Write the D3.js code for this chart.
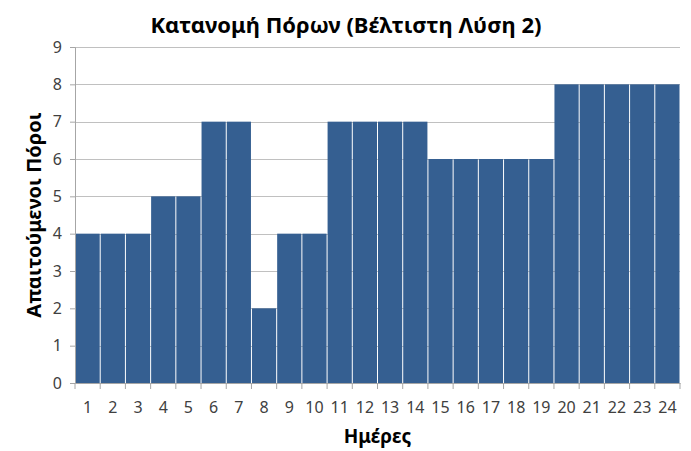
<!DOCTYPE html>
<html><head><meta charset="utf-8">
<script src="https://cdn.jsdelivr.net/npm/d3@7"></script>
<style>body{margin:0;background:#fff}svg{display:block}</style>
</head><body>
<script>
const days = d3.range(1,25).map(String);
const resources = [4,4,4,5,5,7,7,2,4,4,7,7,7,7,6,6,6,6,6,8,8,8,8,8];
const yTicks = [0,1,2,3,4,5,6,7,8,9];
const title = "Κατανομή Πόρων (Βέλτιστη Λύση 2)";
const xTitle = "Ημέρες";
const yTitle = "Απαιτούμενοι Πόροι";

const W=691,H=451, m={l:75,r:11,t:47,b:68};
const svg=d3.select("body").append("svg").attr("width",W).attr("height",H);
const x=d3.scaleBand().domain(days).range([m.l,W-m.r]).padding(0);
const y=d3.scaleLinear().domain([0,9]).range([H-m.b,m.t]);
const font="'Noto Sans', 'DejaVu Sans', sans-serif";

svg.append("g").selectAll("line").data(yTicks.slice(1)).join("line")
 .attr("x1",m.l).attr("x2",W-m.r).attr("y1",d=>Math.round(y(d))+0.5).attr("y2",d=>Math.round(y(d))+0.5)
 .attr("stroke","#c0c0c0").attr("stroke-width",1);

svg.append("g").selectAll("rect").data(resources).join("rect")
 .attr("x",(d,i)=>x(days[i])+0.5).attr("width",x.bandwidth()-1)
 .attr("y",d=>y(d)).attr("height",d=>y(0)-y(d)).attr("fill","#355f91");

const ya=svg.append("g").attr("transform",`translate(${m.l},0)`)
 .call(d3.axisLeft(y).tickValues(yTicks).tickSize(5).tickPadding(8));
ya.select(".domain").attr("stroke","#a6a6a6");
ya.selectAll(".tick line").attr("stroke","#a6a6a6");
ya.selectAll("text").attr("font-family",font).attr("font-size",16).attr("fill","#404040");

const xa=svg.append("g").attr("transform",`translate(0,${y(0)})`)
 .call(d3.axisBottom(x).tickSize(0).tickPadding(19));
xa.select(".domain").attr("stroke","#a6a6a6");
xa.selectAll("text").attr("font-family",font).attr("font-size",16).attr("fill","#404040");
svg.append("g").selectAll("line").data(days.concat(["end"])).join("line")
 .attr("x1",(d,i)=>i<days.length?x(d):x.range()[1]).attr("x2",(d,i)=>i<days.length?x(d):x.range()[1])
 .attr("y1",y(0)).attr("y2",y(0)+6).attr("stroke","#a6a6a6");

svg.append("text").attr("x",346).attr("y",33).attr("text-anchor","middle")
 .attr("font-family",font).attr("font-weight","bold").attr("font-size",22).attr("fill","#000").text(title);
svg.append("text").attr("x",(m.l+W-m.r)/2).attr("y",443).attr("text-anchor","middle")
 .attr("font-family",font).attr("font-weight","bold").attr("font-size",19).attr("fill","#000").text(xTitle);
svg.append("text").attr("transform",`translate(41,${(m.t+H-m.b)/2}) rotate(-90)`).attr("text-anchor","middle")
 .attr("font-family",font).attr("font-weight","bold").attr("font-size",20).attr("fill","#000").text(yTitle);
</script>
</body></html>
